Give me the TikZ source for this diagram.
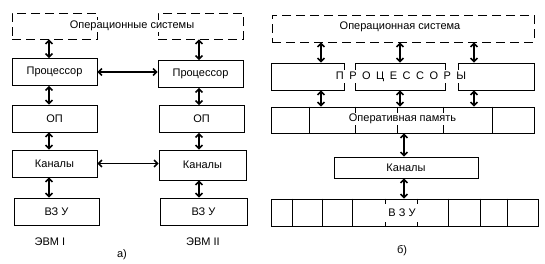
\documentclass[tikz,border=0pt]{standalone}
\usepackage{fontspec}
\setmainfont{Liberation Sans}
\usetikzlibrary{arrows.meta}
\newcommand{\razr}[1]{{\spaceskip=5.5pt\relax #1}}
\tikzset{blk/.style={draw,line width=.8pt,minimum width=85pt,minimum height=27pt,inner sep=0pt},
 osbox/.style={draw,line width=.8pt,dash pattern=on 9pt off 5pt,inner sep=0pt},
 txt/.style={fill=white,inner sep=1.5pt},
 div/.style={line width=.8pt},
 arr/.style={{Straight Barb[length=3.5pt,width=7pt]}-{Straight Barb[length=3.5pt,width=7pt]},line width=1.5pt},
 every node/.style={font=\fontsize{11}{13}\selectfont}}
\begin{document}
\begin{tikzpicture}[x=1pt,y=-1pt]
\useasboundingbox (0,0) rectangle (545,263);
% a) two computers
\node[osbox,minimum width=85pt,minimum height=26pt] (osA1) at (54.5,26) {};
\node[osbox,minimum width=85pt,minimum height=26pt] (osA2) at (200.5,26) {};
\node[txt] (osAt) at (132,26) {Операционные системы};
\node[blk] (prA1) at (54.5,72) {Процессор};
\node[blk] (prA2) at (200.5,74) {Процессор};
\node[blk] (opA1) at (54.5,118.5) {ОП};
\node[blk] (opA2) at (201.5,119) {ОП};
\node[blk] (knA1) at (54.5,163.5) {Каналы};
\node[blk,minimum width=87pt,minimum height=30pt] (knA2) at (202.5,165) {Каналы};
\node[blk] (vzA1) at (56.5,211.5) {ВЗ У};
\node[blk,minimum width=87pt] (vzA2) at (203.5,211.5) {ВЗ У};
\node (evA1) at (50,242) {ЭВМ I};
\node (evA2) at (203,242) {ЭВМ II};
\node (capA) at (122,255) {а)};
\coordinate (xA1) at (49,0);
\coordinate (xA2) at (199,0);
\foreach \c/\u/\v in {xA1/osA1/prA1,xA1/prA1/opA1,xA1/opA1/knA1,xA1/knA1/vzA1,
  xA2/osA2/prA2,xA2/prA2/opA2,xA2/opA2/knA2,xA2/knA2/vzA2}
  {\draw[arr] (\c |- \u.south) -- (\c |- \v.north);}
\draw[arr] (prA1.east) -- (prA1.east -| prA2.west);
\draw[arr] (knA1.east) -- (knA1.east -| knA2.west);
% b) multiprocessor
\node[osbox,minimum width=262pt,minimum height=27pt] (osB) at (403,28.5) {};
\node (osBt) at (400,27) {Операционная система};
\node[blk,minimum width=73pt] (prB1) at (307.5,76.5) {};
\node[blk,minimum width=90pt] (prB2) at (400,76.5) {};
\node[blk,minimum width=76pt] (prB3) at (496,76.5) {};
\node[txt] (prBt) at (401,76.5) {\razr{П Р О Ц Е С С О Р Ы}};
\node[blk,minimum width=263pt,minimum height=26pt] (mem) at (402.5,120) {};
\foreach \d in {39,85,127,173,222}
  {\draw[div] ([xshift=\d]mem.north west) -- ([xshift=\d]mem.south west);}
\node[txt] (memt) at (402.5,119) {Оперативная память};
\node[blk,minimum width=144pt,minimum height=21pt] (knB) at (406,167.5) {Каналы};
\node[blk,minimum width=267pt] (vzB) at (404.5,212.5) {};
\foreach \d in {22,52,82,115,147,178,210,237}
  {\draw[div] ([xshift=\d]vzB.north west) -- ([xshift=\d]vzB.south west);}
\node[txt,minimum width=38pt,minimum height=18pt] (vzBt) at (402,212.5) {В З У};
\node (capB) at (402,251) {б)};
\coordinate (xB1) at (321,0);
\coordinate (xB2) at (400,0);
\coordinate (xB3) at (474,0);
\coordinate (xB4) at (404,0);
\foreach \c/\u/\v in {xB1/osB/prB1,xB2/osB/prB2,xB3/osB/prB3,
  xB1/prB1/mem,xB2/prB2/mem,xB3/prB3/mem,xB4/mem/knB,xB4/knB/vzB}
  {\draw[arr] (\c |- \u.south) -- (\c |- \v.north);}
\end{tikzpicture}
\end{document}
